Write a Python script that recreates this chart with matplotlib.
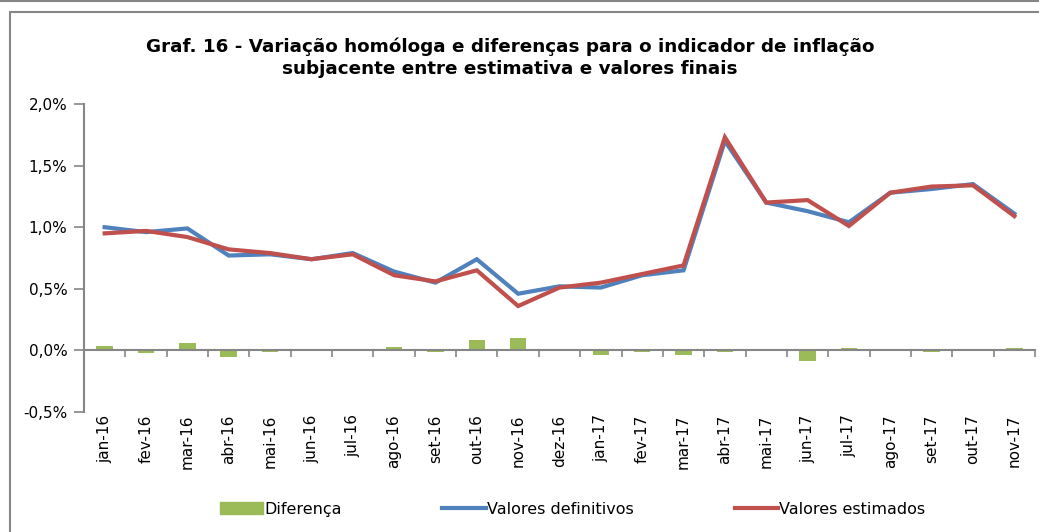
import numpy as np
import matplotlib
matplotlib.use('Agg')
import matplotlib.pyplot as plt
from matplotlib.patches import Rectangle
from matplotlib.lines import Line2D

# Dados (variação homóloga, %)
meses = ['jan-16', 'fev-16', 'mar-16', 'abr-16', 'mai-16', 'jun-16', 'jul-16',
         'ago-16', 'set-16', 'out-16', 'nov-16', 'dez-16', 'jan-17', 'fev-17',
         'mar-17', 'abr-17', 'mai-17', 'jun-17', 'jul-17', 'ago-17', 'set-17',
         'out-17', 'nov-17']
definitivos = [1.00, 0.96, 0.99, 0.77, 0.78, 0.74, 0.79, 0.64, 0.55, 0.74, 0.46,
               0.52, 0.51, 0.61, 0.65, 1.70, 1.20, 1.13, 1.04, 1.28, 1.31,
               1.35, 1.11]
estimados = [0.95, 0.97, 0.92, 0.82, 0.79, 0.74, 0.78, 0.61, 0.56, 0.65, 0.36,
             0.51, 0.55, 0.62, 0.69, 1.73, 1.20, 1.22, 1.01, 1.28, 1.33,
             1.34, 1.09]
diferenca = [0.035, -0.025, 0.06, -0.05, -0.01, 0.0, 0.015, 0.025, -0.01, 0.085,
             0.10, 0.0, -0.04, -0.01, -0.035, -0.01, 0.0, -0.09, 0.02, 0.0,
             -0.01, 0.0, 0.02]

verde = '#9BBB59'
azul = '#4F81BD'
vermelho = '#C0504D'
cinza = '#868686'

fig = plt.figure(figsize=(10.39, 5.32), dpi=100)
ax = fig.add_axes([84 / 1039, 1 - 412 / 532, (1035 - 84) / 1039, (412 - 104) / 532])

x = np.arange(len(meses))
ax.bar(x, diferenca, width=0.4, color=verde, zorder=2)
ax.plot(x, definitivos, color=azul, lw=3, zorder=3, solid_joinstyle='miter')
ax.plot(x, estimados, color=vermelho, lw=3, zorder=4, solid_joinstyle='miter')

ax.set_xlim(-0.5, len(meses) - 0.5)
ax.set_ylim(-0.5, 2.0)
ax.set_yticks([-0.5, 0, 0.5, 1.0, 1.5, 2.0])
ax.set_yticklabels(['-0,5%', '0,0%', '0,5%', '1,0%', '1,5%', '2,0%'], fontsize=11)

# eixo x na linha do zero, etiquetas em baixo
ax.spines['bottom'].set_position(('data', 0))
ax.spines['top'].set_visible(False)
ax.spines['right'].set_visible(False)
for s in ['bottom', 'left']:
    ax.spines[s].set_color(cinza)
    ax.spines[s].set_linewidth(1.5)
ax.set_xticks(np.arange(len(meses) + 1) - 0.5)
ax.set_xticklabels([])
ax.tick_params(axis='x', direction='out', length=5, color=cinza, width=1.2)
ax.tick_params(axis='y', direction='out', length=7, color=cinza, width=1.2, pad=5)

for i, m in enumerate(meses):
    ax.text(i, -0.52, m, rotation=90, ha='center', va='top', fontsize=11,
            transform=ax.transData)

fig.text(0.491, 0.93, 'Graf. 16 - Variação homóloga e diferenças para o indicador de inflação\n'
         'subjacente entre estimativa e valores finais',
         ha='center', va='top', fontsize=13.2, fontweight='bold', linespacing=1.3)

handles = [Rectangle((0, 0), 1, 1, color=verde),
           Line2D([], [], color=azul, lw=3),
           Line2D([], [], color=vermelho, lw=3)]
fig.legend(handles, ['Diferença', 'Valores definitivos', 'Valores estimados'],
           loc='center', bbox_to_anchor=(0.551, 0.043), ncol=3, frameon=False,
           fontsize=11.5, handlelength=2.7, handletextpad=0.1, columnspacing=6.3)

# moldura do gráfico
fig.patches.append(Rectangle((10 / 1039, -0.1), 1.0, 1.1 - 12 / 532, transform=fig.transFigure,
                             fill=False, edgecolor=cinza, lw=1.5))
fig.add_artist(Line2D([0, 1], [1 - 1 / 532, 1 - 1 / 532], transform=fig.transFigure,
                      color=cinza, lw=1.5))

fig.savefig('out.png', dpi=100)
